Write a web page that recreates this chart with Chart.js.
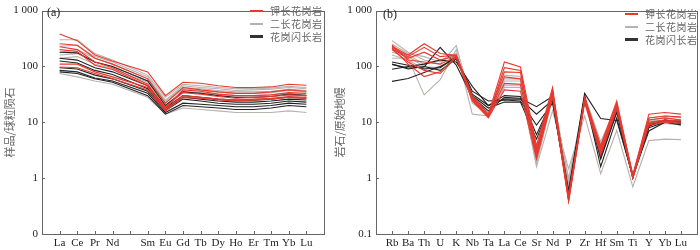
<!DOCTYPE html>
<html>
<head>
<meta charset="utf-8">
<script src="https://cdn.jsdelivr.net/npm/chart.js@4"></script>
<style>
  body { margin: 0; background: #fff; }
  #wrap { position: relative; width: 700px; height: 250px; overflow: hidden; }
  .panel { position: absolute; top: 0; }
  .tag { position: absolute; font: 12px "Liberation Serif", serif; color: #222; }
  .legend { position: absolute; z-index: 2; font: 10px "Noto Sans CJK SC", sans-serif; color: #666; letter-spacing: 0.5px; line-height: 13px; }
  .legend div { display: flex; align-items: center; white-space: nowrap; }
  .legend i { display: block; width: 13px; height: 2px; margin-right: 7px; }
</style>
</head>
<body>
<div id="wrap">
  <div class="panel" style="left:0"><canvas id="reeChart" width="330" height="250"></canvas></div>
  <div class="panel" style="left:330px"><canvas id="spiderChart" width="370" height="250"></canvas></div>
  <div class="tag" style="left:47px;top:5px">(a)</div>
  <div class="tag" style="left:383px;top:7px">(b)</div>
  <div class="legend" style="left:250px;top:4px">
    <div><i style="background:#e8392f"></i>钾长花岗岩</div>
    <div><i style="background:#b8b1ae"></i>二长花岗岩</div>
    <div><i style="background:#333;height:3px"></i>花岗闪长岩</div>
  </div>
  <div class="legend" style="left:625px;top:7px">
    <div><i style="background:#e8392f"></i>钾长花岗岩</div>
    <div><i style="background:#b8b1ae"></i>二长花岗岩</div>
    <div><i style="background:#333;height:3px"></i>花岗闪长岩</div>
  </div>
</div>
<script>
// 稀土元素（Pm 位置留空）
const reeLabels = ['La', 'Ce', 'Pr', 'Nd', '', 'Sm', 'Eu', 'Gd', 'Tb', 'Dy', 'Ho', 'Er', 'Tm', 'Yb', 'Lu'];

const reeKGranite = [
    [380, 290, 160, 125, null, 80, 30, 52, 50, 45, 42, 42, 43, 48, 46],
    [255, 240, 140, 110, null, 60, 22, 42, 38, 35, 33, 33, 35, 38, 36],
    [225, 200, 120, 95, null, 48, 18, 38, 36, 32, 30, 30, 31, 34, 33],
    [200, 185, 105, 88, null, 45, 19, 34, 32, 29, 27, 28, 29, 31, 30],
    [110, 110, 80, 65, null, 42, 17, 30, 28, 26, 25, 26, 27, 29, 28],
    [98, 95, 75, 60, null, 38, 16, 28, 27, 25, 24, 25, 26, 28, 27]
];
const reeMGranite = [
    [300, 300, 170, 130, null, 70, 28, 48, 45, 42, 40, 40, 41, 44, 42],
    [230, 240, 150, 120, null, 65, 25, 45, 42, 40, 37, 38, 39, 42, 40],
    [180, 200, 140, 110, null, 60, 24, 42, 40, 37, 35, 35, 36, 39, 37],
    [160, 170, 120, 100, null, 55, 22, 40, 37, 35, 33, 33, 34, 37, 35],
    [140, 150, 110, 90, null, 52, 20, 36, 34, 32, 30, 30, 31, 33, 31],
    [75, 65, 55, 48, null, 28, 14, 18, 17, 16, 15, 15, 15, 16, 15]
];
const reeGranodiorite = [
    [180, 175, 120, 100, null, 55, 20, 35, 33, 30, 28, 28, 29, 32, 30],
    [140, 130, 95, 80, null, 45, 18, 30, 28, 26, 25, 25, 26, 28, 27],
    [125, 115, 85, 72, null, 40, 17, 28, 26, 24, 23, 23, 24, 26, 25],
    [95, 90, 70, 60, null, 36, 16, 26, 24, 22, 21, 21, 22, 24, 23],
    [85, 80, 62, 55, null, 33, 15, 22, 21, 20, 19, 19, 20, 22, 21],
    [80, 75, 60, 52, null, 30, 14, 20, 19, 18, 17, 17, 18, 20, 19]
];

// 微量元素蛛网图
const spiderLabels = ['Rb', 'Ba', 'Th', 'U', 'K', 'Nb', 'Ta', 'La', 'Ce', 'Sr', 'Nd', 'P', 'Zr', 'Hf', 'Sm', 'Ti', 'Y', 'Yb', 'Lu'];

const spKGranite = [
    [230, 160, 255, 170, 158, 30, 14, 120, 98, 3.8, 42, 0.4, 28, 3.8, 24, 1.1, 14, 15, 14],
    [220, 150, 220, 150, 160, 28, 13, 95, 85, 3.2, 38, 0.45, 26, 3.5, 22, 1.1, 12, 13, 12.5],
    [210, 140, 180, 130, 155, 27, 13, 80, 78, 3.0, 36, 0.5, 25, 3.2, 20, 1.05, 11, 12, 11],
    [240, 130, 120, 110, 150, 26, 12.5, 65, 60, 2.6, 33, 0.42, 24, 3.0, 19, 1.0, 10, 11, 10.5],
    [200, 120, 85, 75, 145, 25, 12.5, 50, 48, 2.4, 30, 0.4, 24, 2.8, 18, 1.0, 9.5, 10.5, 10],
    [215, 110, 66, 80, 152, 24, 12, 38, 36, 2.2, 28, 0.38, 23, 2.6, 17, 1.0, 9, 10, 9.5]
];
const spMGranite = [
    [290, 180, 130, 110, 236, 22, 14, 70, 66, 3.5, 35, 0.7, 30, 4.5, 20, 1.2, 12, 13, 12],
    [250, 170, 150, 120, 170, 30, 15, 60, 60, 3.0, 34, 0.8, 27, 4, 20, 1.15, 11, 12, 11],
    [200, 160, 110, 130, 160, 25, 14, 55, 55, 2.5, 32, 0.9, 26, 3.5, 19, 1.1, 10.5, 11, 10.5],
    [140, 140, 31, 58, 200, 14, 13, 45, 45, 1.6, 16, 1.46, 13, 1.2, 7.2, 0.7, 4.7, 5, 4.9],
    [180, 150, 100, 95, 150, 27, 14, 48, 48, 2.0, 30, 0.6, 25, 3, 18, 1.1, 10, 10.5, 10],
    [160, 130, 90, 100, 140, 25, 13.5, 42, 42, 1.8, 28, 1.0, 22, 2.2, 16, 1.0, 9, 9.5, 9]
];
const spGranodiorite = [
    [109, 94, 98, 220, 106, 28, 16, 28, 27, 19, 29, 0.6, 33, 11.7, 10.8, 1.1, 7, 10, 9],
    [89, 100, 110, 130, 120, 44, 20, 26, 26, 14, 25, 0.5, 30, 1.6, 12, 1.05, 8, 10, 9.5],
    [54, 61, 78, 100, 140, 36, 24, 25, 24, 8.9, 22, 0.55, 28, 2.2, 15, 1.1, 9, 11, 10],
    [120, 105, 90, 95, 150, 30, 18, 23, 23, 5, 27, 0.5, 26, 2.5, 16, 1.05, 9.5, 10.5, 10.5],
    [110, 90, 100, 85, 135, 32, 20, 30, 29, 6, 26, 0.45, 25, 3, 17, 1.0, 8.5, 11, 10]
];

const yTicks = [0.1, 1, 10, 100, 1000];

const RED = '#e8392f';
const GRAY = '#b8b1ae';
const BLACK = '#222';

// 两端各留一个空位，让首尾元素离开坐标轴
function pad(arr, fill) { return [fill].concat(arr, [fill]); }

function makeSets(groups) {
    const sets = [];
    groups.forEach(function (g) {
        g.rows.forEach(function (row) {
            sets.push({ data: pad(row, null), borderColor: g.color, borderWidth: 1.1, pointRadius: 0, tension: 0, spanGaps: true, fill: false });
        });
    });
    return sets;
}

// 坐标框与朝内的刻度
const frame = {
    id: 'frame',
    afterDraw(chart) {
        const ctx = chart.ctx, a = chart.chartArea, x = chart.scales.x, y = chart.scales.y;
        ctx.save();
        ctx.strokeStyle = '#666';
        ctx.lineWidth = 1;
        ctx.strokeRect(Math.round(a.left) + 0.5, Math.round(a.top) + 0.5, Math.round(a.width), Math.round(a.height));
        ctx.beginPath();
        for (let i = 1; i < x.ticks.length - 1; i++) {
            const px = Math.round(x.getPixelForTick(i)) + 0.5;
            ctx.moveTo(px, a.bottom); ctx.lineTo(px, a.bottom - 3);
        }
        y.ticks.forEach(function (t, i) {
            const py = Math.round(y.getPixelForTick(i)) + 0.5;
            ctx.moveTo(a.left, py); ctx.lineTo(a.left + 3, py);
        });
        ctx.stroke();
        ctx.restore();
    }
};

function makeChart(id, labels, groups, yTitle, yWidth, padRight, zeroLabel) {
    return new Chart(document.getElementById(id), {
        type: 'line',
        data: { labels: pad(labels, ''), datasets: makeSets(groups) },
        options: {
            responsive: false,
            animation: false,
            devicePixelRatio: 1,
            layout: { padding: { top: 4, right: padRight, bottom: 0, left: 0 } },
            plugins: { legend: { display: false }, tooltip: { enabled: false } },
            scales: {
                x: {
                    offset: false,
                    grid: { display: false, drawTicks: false },
                    border: { display: false },
                    ticks: { autoSkip: false, maxRotation: 0, padding: 3, color: '#222', font: { family: 'Liberation Serif', size: 11 } },
                    afterFit(s) { s.height = 16; }
                },
                y: {
                    type: 'logarithmic',
                    min: 0.1,
                    max: 1000,
                    grid: { display: false, drawTicks: false },
                    border: { display: false },
                    afterBuildTicks(s) { s.ticks = yTicks.map(function (v) { return { value: v }; }); },
                    ticks: {
                        padding: 4,
                        color: '#222',
                        font: { family: 'Liberation Serif', size: 11 },
                        callback: function (v) {
                            if (v === 1000) return '1 000';
                            if (v === 0.1) return zeroLabel;
                            return String(v);
                        }
                    },
                    title: { display: true, text: yTitle, color: '#666', padding: { top: 3, bottom: 0 }, font: { family: 'Noto Sans CJK SC', size: 11 } },
                    afterFit(s) { s.width = yWidth; }
                }
            }
        },
        plugins: [frame]
    });
}

document.addEventListener('DOMContentLoaded', function () {
    makeChart('reeChart', reeLabels, [
        { rows: reeKGranite, color: RED },
        { rows: reeGranodiorite, color: BLACK },
        { rows: reeMGranite, color: GRAY }
    ], '样品/球粒陨石', 42, 6, '0');

    makeChart('spiderChart', spiderLabels, [
        { rows: spKGranite, color: RED },
        { rows: spGranodiorite, color: BLACK },
        { rows: spMGranite, color: GRAY }
    ], '岩石/原始地幔', 46, 2, '0.1');
});
</script>
</body>
</html>
